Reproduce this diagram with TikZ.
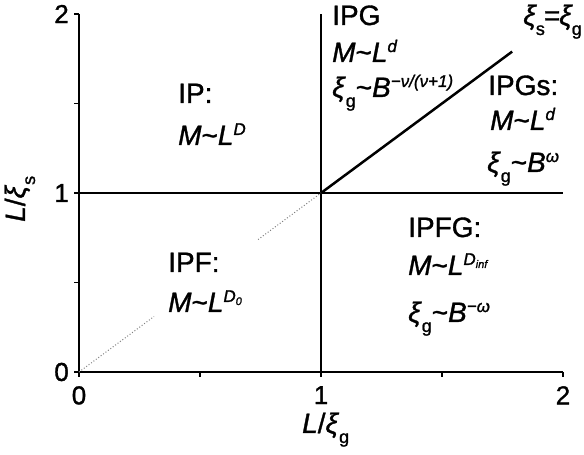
\documentclass[tikz,border=0pt]{standalone}
\usepackage{fontspec}
\setmainfont{Liberation Sans}[FakeBold=1.2,ItalicFeatures={FakeBold=1.2}]
\newcommand{\sps}[1]{\raisebox{10pt}{\fontsize{17}{17}\selectfont\itshape #1}}
\newcommand{\sbs}[1]{\raisebox{-10pt}{\fontsize{18}{18}\selectfont #1}}
\newcommand{\tld}{\textasciitilde}
\begin{document}
\begin{tikzpicture}[x=242pt,y=179pt,
  lbl/.style={font=\fontsize{28}{32}\selectfont, inner sep=0pt, anchor=base west},
  num/.style={font=\fontsize{26}{30}\selectfont, inner sep=0pt},
  ax/.style={line width=2.5pt},
  tk/.style={line width=1.8pt},
  dots/.style={gray, dotted, line width=1pt}]
\useasboundingbox (-79pt,-83pt) rectangle (505pt,372pt);
% key points
\coordinate (O) at (0,0);
\coordinate (X2) at (2,0);
\coordinate (Y2) at (0,2);
\coordinate (A) at (1,0);
\coordinate (B) at (1,2);
\coordinate (C) at (0,1);
\coordinate (D) at (2,1);
\coordinate (P) at (1,1);
\coordinate (Q) at (1.79,1.79);
\coordinate (d1) at (0.31,0.31);
\coordinate (d2) at (0.74,0.74);
% axes
\draw[ax] (Y2) -- (O) -- (X2);
\foreach \y in {0,0.5,1,1.5,2} \draw[tk] (0,\y) -- ++(-5pt,0);
\foreach \x in {0,0.5,1,1.5,2} \draw[tk] (\x,0) -- ++(0,-5pt);
% boundaries
\draw[ax] (C) -- (D);
\draw[ax] (A) -- (B);
\draw[ax] (P) -- (Q);
\draw[dots] (O) -- (d1);
\draw[dots] (d2) -- (P);
% tick labels
\node[num, anchor=east] (y0) at (-10pt,0) {0};
\node[num, anchor=east] (y1) at (-10pt,1) {1};
\node[num, anchor=east] (y2) at (-10pt,2) {2};
\node[num, anchor=north] (x0) at (0,-14pt) {0};
\node[num, anchor=north] (x1) at (1,-14pt) {1};
\node[num, anchor=north] (x2) at (2,-14pt) {2};
% axis titles
\node[lbl] (xt) at (223pt,-61pt) {\textit{L}/\textit{ξ}\sbs{g}};
\node[lbl, rotate=90] (yt) at (-54pt,150pt) {\textit{L}/\textit{ξ}\sbs{s}};
% region IP
\node[lbl] (ip1) at (99pt,269pt) {IP:};
\node[lbl] (ip2) at (99pt,227pt) {\textit{M}\tld\textit{L}\sps{D}};
% region IPG
\node[lbl] (ipg1) at (253pt,347pt) {IPG};
\node[lbl] (ipg2) at (253pt,310pt) {\textit{M}\tld\textit{L}\sps{d}};
\node[lbl] (ipg3) at (253pt,275pt) {\textit{ξ}\sbs{g}\tld\textit{B}\sps{−ν/(ν+1)}};
% diagonal label
\node[lbl, anchor=base east] (eq) at (503pt,347pt) {\textit{ξ}\kern-1pt\sbs{s}\kern-1pt=\kern-1pt\textit{ξ}\kern-1pt\sbs{g}};
% region IPGs
\node[lbl] (ipgs1) at (409pt,277pt) {IPGs:};
\node[lbl] (ipgs2) at (411pt,242pt) {\textit{M}\tld\textit{L}\sps{d}};
\node[lbl] (ipgs3) at (408pt,200pt) {\textit{ξ}\sbs{g}\tld\textit{B}\sps{ω}};
% region IPF
\node[lbl] (ipf1) at (89pt,100pt) {IPF:};
\node[lbl] (ipf2) at (89pt,60pt) {\textit{M}\tld\textit{L}\sps{D\raisebox{-3pt}{\fontsize{11}{11}\selectfont 0}}};
% region IPFG
\node[lbl] (ipfg1) at (329pt,135pt) {IPFG:};
\node[lbl] (ipfg2) at (329pt,97pt) {\textit{M}\tld\textit{L}\sps{D\raisebox{-3pt}{\fontsize{11}{11}\selectfont inf}}};
\node[lbl] (ipfg3) at (329pt,50pt) {\textit{ξ}\sbs{g}\tld\textit{B}\sps{−ω}};
\end{tikzpicture}
\end{document}
